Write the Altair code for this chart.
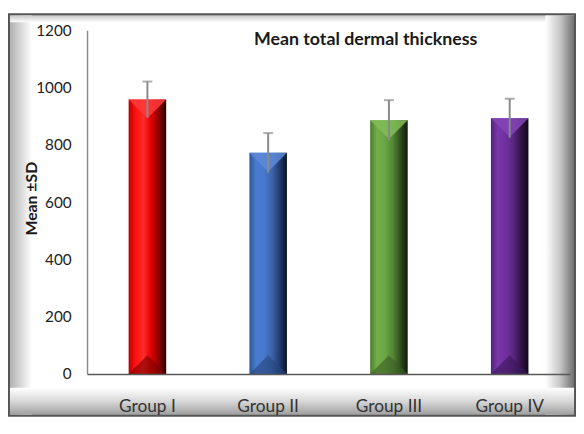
import altair as alt
import pandas as pd

groups = ["Group I", "Group II", "Group III", "Group IV"]
means = [958, 772, 886, 893]
sds = [63, 69, 70, 68]

df = pd.DataFrame({"group": groups, "mean": means, "sd": sds})
df["lo"] = df["mean"] - df["sd"]
df["hi"] = df["mean"] + df["sd"]

W, H = 489, 348
FONT = "Lato"

def grad(stops, horizontal=True):
    return alt.LinearGradient(
        gradient="linear",
        stops=[alt.GradientStop(color=c, offset=o) for o, c in stops],
        x1=0, y1=0, x2=1 if horizontal else 0, y2=0 if horizontal else 1,
    )

bar_grads = {
    "Group I": [(0, "#b80000"), (0.18, "#ff1010"), (0.4, "#ff2a2a"), (0.6, "#e00000"), (0.82, "#850000"), (1, "#250000")],
    "Group II": [(0, "#2f5597"), (0.18, "#4a7bd0"), (0.4, "#4878cc"), (0.6, "#3a64ad"), (0.82, "#1f3868"), (1, "#0a1428")],
    "Group III": [(0, "#4e7a30"), (0.18, "#72b048"), (0.4, "#6aa443"), (0.6, "#548836"), (0.82, "#2d4a1c"), (1, "#0f1a09")],
    "Group IV": [(0, "#50227a"), (0.18, "#7838aa"), (0.4, "#702f9e"), (0.6, "#58267e"), (0.82, "#2e1343"), (1, "#120818")],
}
top_tri = {"Group I": "#ff3b3b", "Group II": "#5d8ad6", "Group III": "#80bd56", "Group IV": "#8445b8"}
bot_tri = {"Group I": "#7a0000", "Group II": "#26457a", "Group III": "#3a5c25", "Group IV": "#3a1858"}

X = alt.X(
    "group:N",
    title=None,
    sort=groups,
    scale=alt.Scale(domain=groups, paddingInner=0, paddingOuter=0),
    axis=alt.Axis(
        labelAngle=0, ticks=False, domainColor="#595959", domainWidth=1.5,
        labelFont=FONT, labelFontSize=17.5, labelColor="#333333", labelPadding=24,
        zindex=2,
    ),
)
Y = alt.Y(
    "mean:Q",
    title="Mean ±SD",
    scale=alt.Scale(domain=[0, 1200], nice=False),
    axis=alt.Axis(
        values=[0, 200, 400, 600, 800, 1000, 1200], format="d", ticks=False, grid=False,
        domainColor="#8c8c8c", domainWidth=1.5,
        labelFont=FONT, labelFontSize=15.5, labelColor="#222222", labelPadding=16,
        titleFont=FONT, titleFontSize=16, titleFontWeight="bold", titleColor="#1a1a1a",
        titleX=-56, titleY=170, titleBaseline="middle", zindex=2,
    ),
)

one = alt.Data(values=[{"k": 1}])

def panel(x, x2, y, y2, fill, stroke=None, sw=0):
    kw = {"fill": fill}
    if stroke:
        kw.update(stroke=stroke, strokeWidth=sw)
    return alt.Chart(one).mark_rect(**kw).encode(
        x=alt.value(x), x2=alt.value(x2), y=alt.value(y), y2=alt.value(y2)
    )

frame = panel(-79, 494, -16, 390, "#ffffff", stroke="#555555", sw=2.5)
left_bev = panel(-78, -56, -15, 389, grad([(0, "#b0b0b0"), (1, "#ffffff")]))
top_bev = panel(-78, 493, -15, -8, grad([(0, "#c8c8c8"), (1, "#ffffff")], horizontal=False))
right_bev = panel(464, 493, -15, 389, grad([(0, "#ffffff"), (0.5, "#c8c8c8"), (1, "#707070")]))
bottom_bev = panel(-78, 493, 362, 389, grad([(0, "#ffffff"), (0.5, "#d8d8d8"), (1, "#a0a0a0")], horizontal=False))

layers = [frame, left_bev, top_bev, right_bev, bottom_bev]

for g in groups:
    sub = alt.Chart(df).transform_filter(alt.datum.group == g)
    layers.append(sub.mark_bar(size=38, fill=grad(bar_grads[g])).encode(x=X, y=Y))
    layers.append(
        sub.mark_point(shape="M-1,0 L1,0 L0,1 Z", size=38 * 38, filled=True,
                       fill=top_tri[g], opacity=0.85, strokeWidth=0).encode(x=X, y=Y)
    )
    layers.append(
        sub.mark_point(shape="M-1,0 L1,0 L0,-1 Z", size=38 * 38, filled=True,
                       fill=bot_tri[g], opacity=0.6, strokeWidth=0)
        .transform_calculate(zero="0")
        .encode(x=X, y=alt.Y("zero:Q"))
    )

err = alt.Chart(df).mark_rule(color="#8a8a8a", strokeWidth=2).encode(
    x=X, y=alt.Y("lo:Q"), y2="hi:Q"
)
cap = alt.Chart(df).mark_tick(color="#8a8a8a", thickness=2, size=10, orient="horizontal").encode(
    x=X, y=alt.Y("hi:Q")
)
title = alt.Chart(one).mark_text(
    text="Mean total dermal thickness", font=FONT, fontSize=18, fontWeight="bold",
    color="#1a1a1a", align="center", baseline="middle",
).encode(x=alt.value(282), y=alt.value(10))

layers += [err, cap, title]

chart = alt.layer(*layers).properties(
    width=W, height=H,
    padding={"left": 80, "top": 20, "right": 6, "bottom": 44},
    autosize=alt.AutoSizeParams(type="none"),
).configure_view(strokeWidth=0).resolve_scale(y="shared")

chart.save("out.html", embed_options={"renderer": "svg", "actions": False})
